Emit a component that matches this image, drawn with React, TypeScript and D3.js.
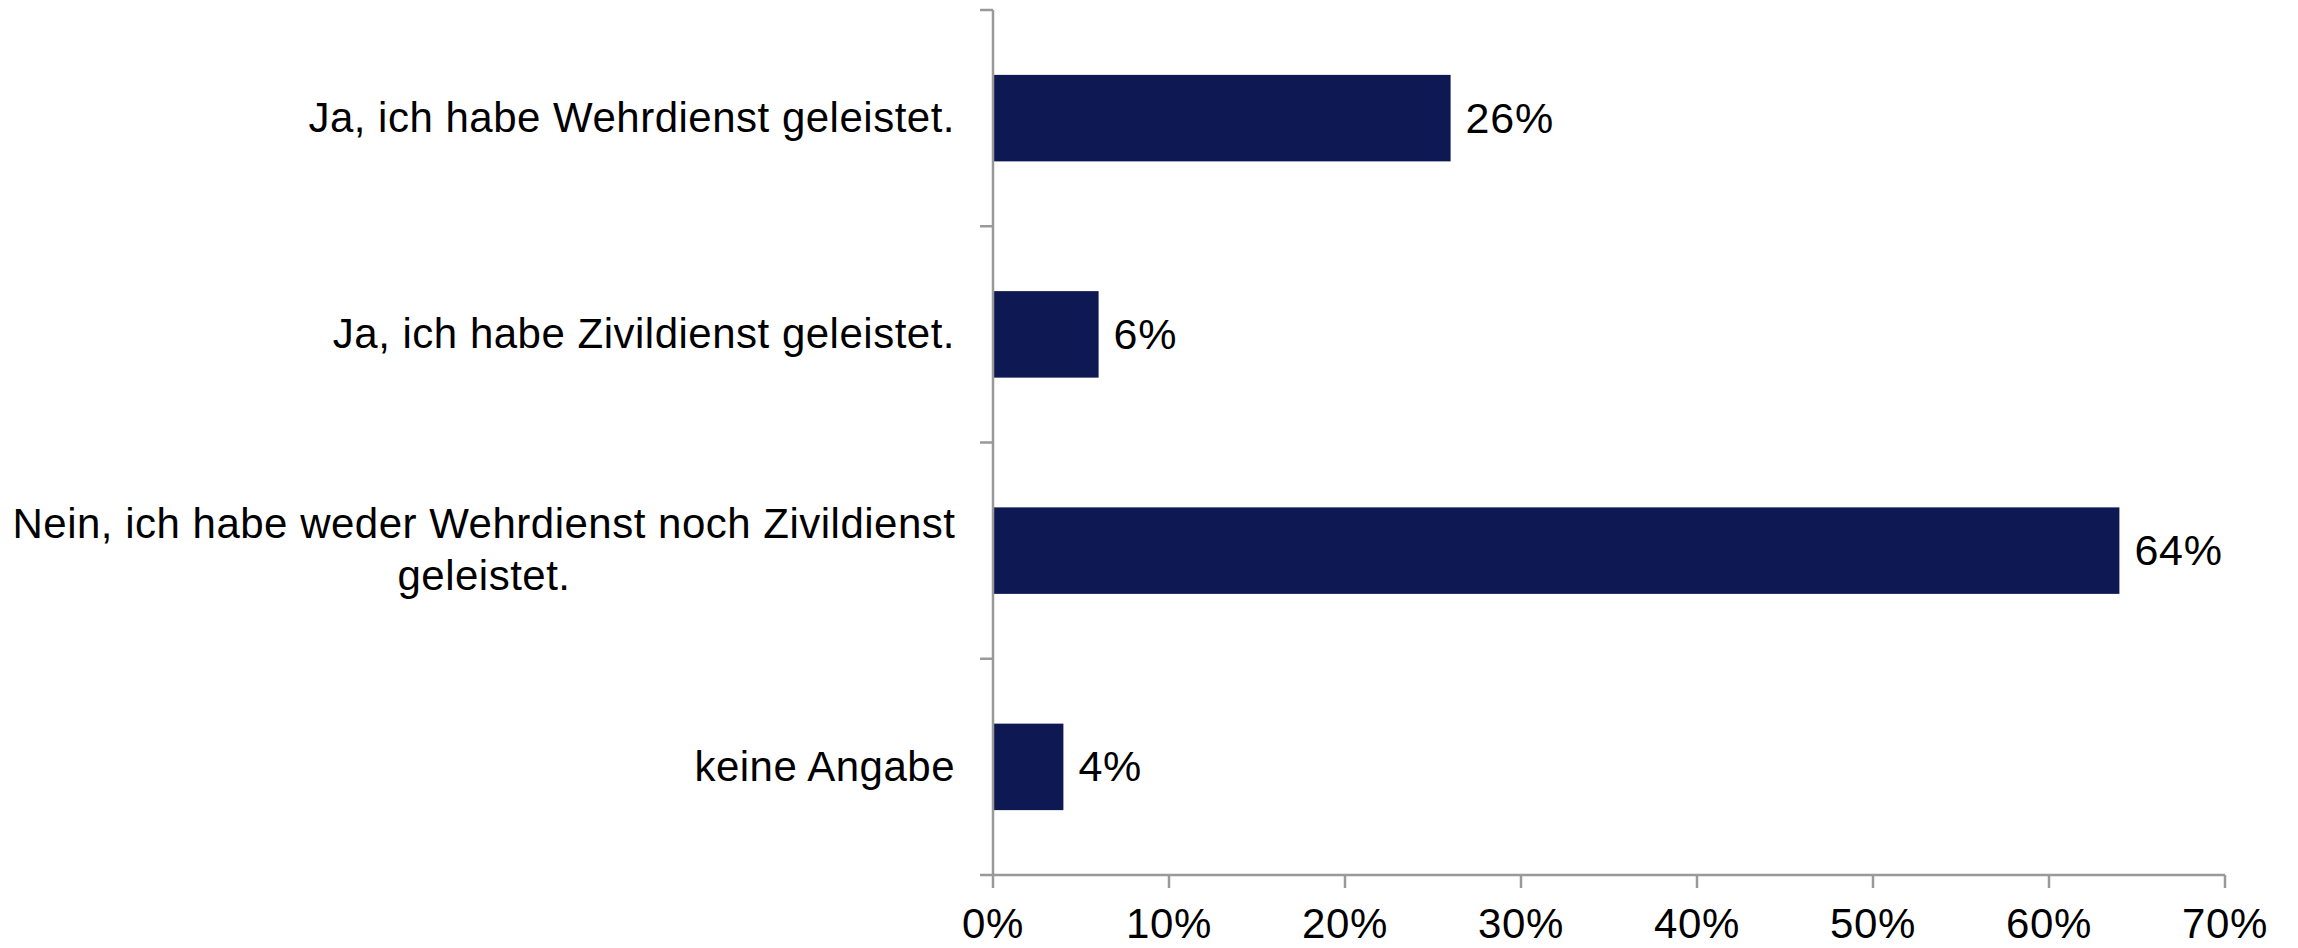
import React from "react";
import * as d3 from "d3";

const categories: string[][] = [
  ["Ja, ich habe Wehrdienst geleistet."],
  ["Ja, ich habe Zivildienst geleistet."],
  ["Nein, ich habe weder Wehrdienst noch Zivildienst", "geleistet."],
  ["keine Angabe"],
];
const values: number[] = [26, 6, 64, 4];
const xTicks: number[] = [0, 10, 20, 30, 40, 50, 60, 70];

const W = 2298;
const H = 948;
const left = 993;
const right = 2225;
const top = 10;
const bottom = 875;
const axisColor = "#999999";
const barColor = "#0e1853";
const font = "'Liberation Sans', Arial, Helvetica, sans-serif";

export default function App() {
  const x = d3.scaleLinear().domain([0, 70]).range([left, right]);
  const idx = categories.map((_, i) => i);
  const y = d3
    .scaleBand<number>()
    .domain(idx)
    .range([top, bottom])
    .paddingInner(0.6)
    .paddingOuter(0.3);
  const step = (bottom - top) / categories.length;
  const boundaries = d3.range(categories.length + 1).map((i) => top + i * step);

  return (
    <svg
      width={W}
      height={H}
      style={{ position: "absolute", left: 0, top: 0, background: "#fff" }}
      fontFamily={font}
    >
      {values.map((v, i) => (
        <rect
          key={"b" + i}
          x={x(0)}
          y={y(i)!}
          width={x(v) - x(0)}
          height={y.bandwidth()}
          fill={barColor}
        />
      ))}
      {values.map((v, i) => (
        <text
          key={"v" + i}
          x={x(v) + 15}
          y={y(i)! + y.bandwidth() / 2}
          dy="0.34em"
          fontSize={43}
          letterSpacing={0.8}
          fill="#000"
        >
          {v + "%"}
        </text>
      ))}
      <line x1={left} x2={left} y1={top} y2={bottom} stroke={axisColor} strokeWidth={2.5} />
      {boundaries.map((b, i) => (
        <line key={"lt" + i} x1={left - 13} x2={left} y1={b} y2={b} stroke={axisColor} strokeWidth={2.5} />
      ))}
      <line x1={left} x2={right} y1={bottom} y2={bottom} stroke={axisColor} strokeWidth={2.5} />
      {xTicks.map((t) => (
        <g key={"xt" + t}>
          <line x1={x(t)} x2={x(t)} y1={bottom} y2={bottom + 13} stroke={axisColor} strokeWidth={2.5} />
          <text x={x(t)} y={938} textAnchor="middle" fontSize={42} letterSpacing={0.6} fill="#000">
            {t + "%"}
          </text>
        </g>
      ))}
      {categories.map((lines, i) => {
        const cy = y(i)! + y.bandwidth() / 2;
        const lh = 52;
        const n = lines.length;
        if (n === 1) {
          return (
            <text key={"c" + i} x={955} y={cy} dy="0.33em" textAnchor="end" fontSize={42} letterSpacing={0.5} fill="#000">
              {lines[0]}
            </text>
          );
        }
        return (
          <text key={"c" + i} x={484} textAnchor="middle" fontSize={42} letterSpacing={0.5} fill="#000">
            {lines.map((l, j) => (
              <tspan key={j} x={484} y={cy + (j - (n - 1) / 2) * lh} dy="0.33em">
                {l}
              </tspan>
            ))}
          </text>
        );
      })}
    </svg>
  );
}
